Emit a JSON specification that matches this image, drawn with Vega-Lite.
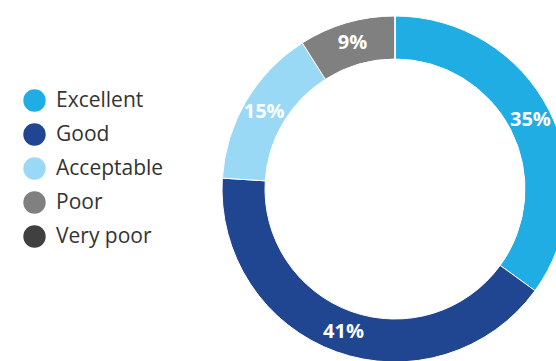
{
  "$schema": "https://vega.github.io/schema/vega-lite/v6.json",
  "autosize": "none",
  "padding": {"left": 222, "top": 16, "right": 0, "bottom": 0},
  "width": 334,
  "height": 345,
  "background": "white",
  "config": {"view": {"stroke": null}, "font": "Open Sans"},
  "data": {
    "values": [
      {"rating": "Excellent", "share": 0.35, "idx": 1},
      {"rating": "Good", "share": 0.41, "idx": 2},
      {"rating": "Acceptable", "share": 0.15, "idx": 3},
      {"rating": "Poor", "share": 0.09, "idx": 4},
      {"rating": "Very poor", "share": 0.0, "idx": 5}
    ]
  },
  "encoding": {
    "theta": {"field": "share", "type": "quantitative", "stack": true},
    "order": {"field": "idx", "type": "quantitative"},
    "x": {"value": 173},
    "y": {"value": 173}
  },
  "layer": [
    {
      "mark": {"type": "arc", "outerRadius": 173, "innerRadius": 130, "stroke": "white", "strokeWidth": 1},
      "encoding": {
        "color": {
          "field": "rating",
          "type": "nominal",
          "scale": {
            "domain": ["Excellent", "Good", "Acceptable", "Poor", "Very poor"],
            "range": ["#1fade4", "#204591", "#99d9f6", "#808080", "#404040"]
          },
          "legend": {
            "title": null,
            "orient": "none",
            "legendX": -199,
            "legendY": 73,
            "symbolType": "circle",
            "symbolSize": 500,
            "symbolStrokeWidth": 0,
            "symbolOpacity": 1,
            "labelFont": "Open Sans",
            "labelFontSize": 21,
            "labelColor": "#333333",
            "labelOffset": 10,
            "rowPadding": 11,
            "padding": 0
          }
        }
      }
    },
    {
      "transform": [{"filter": "datum.share > 0"}],
      "mark": {"type": "text", "radius": 152, "font": "Open Sans", "fontWeight": "bold", "fontSize": 20, "color": "white", "align": "center", "baseline": "middle"},
      "encoding": {
        "text": {"field": "share", "type": "quantitative", "format": ".0%"}
      }
    }
  ]
}
